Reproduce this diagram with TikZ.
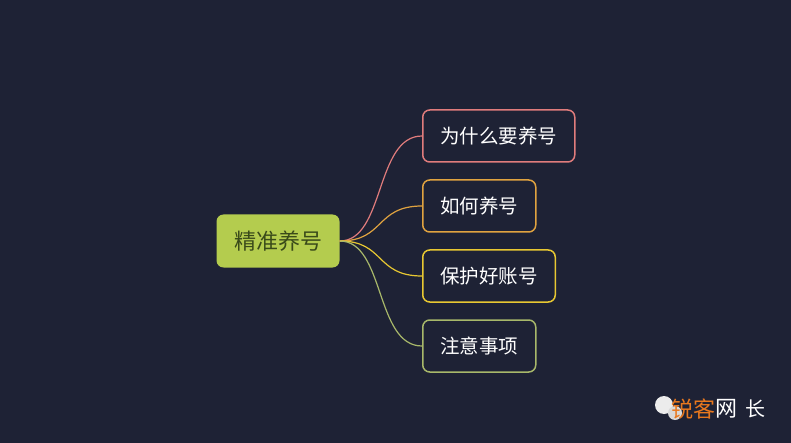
\documentclass[tikz,border=0pt]{standalone}
\usepackage{fontspec}
\setmainfont{Noto Sans CJK SC}
\usepackage{tikz}
\usetikzlibrary{positioning}
\definecolor{bgdark}{HTML}{1E2235}
\definecolor{rootgreen}{HTML}{B4CC4E}
\definecolor{rootink}{HTML}{3A4A1A}
\definecolor{brpink}{HTML}{E07C7C}
\definecolor{brorange}{HTML}{E0A340}
\definecolor{bryellow}{HTML}{E8C832}
\definecolor{brolive}{HTML}{A8B86A}
\definecolor{wmorange}{HTML}{E8781E}
\tikzset{
  mm_root/.style = {rectangle, rounded corners=7pt, fill=rootgreen, text=rootink,
    font=\fontsize{22}{22}\selectfont, minimum width=123pt, minimum height=53pt},
  mm_leaf/.style = {rectangle, rounded corners=7pt, draw=#1, line width=1.5pt,
    fill=bgdark, text=white, font=\fontsize{19.5}{20}\selectfont,
    minimum height=52pt, inner xsep=17.5pt},
  mm_link/.style = {draw=#1, line width=1.2pt}
}
\begin{document}
\begin{tikzpicture}[x=1pt,y=-1pt]
  \fill[bgdark] (0,0) rectangle (791,443);
  \useasboundingbox (0,0) rectangle (791,443);
  % central topic and its branches
  \node [mm_root] (root) at (278,241) {精准养号};
  \node [mm_leaf=brpink, anchor=west] (why) at (422,136) {为什么要养号};
  \node [mm_leaf=brorange, anchor=west] (how) at (422,206) {如何养号};
  \node [mm_leaf=bryellow, anchor=west] (keep) at (422,276) {保护好账号};
  \node [mm_leaf=brolive, anchor=west] (note) at (422,346) {注意事项};
  \foreach \leaf/\col in {why/brpink, how/brorange, keep/bryellow, note/brolive}
    \draw [mm_link=\col] (root.east) .. controls (385,241) and (375,0 |- \leaf.west) .. (\leaf.west);
  % watermark
  \fill [white!85!gray] (664,405) circle (9pt);
  \fill [white!70!gray] (675,413) circle (7pt);
  \node [anchor=west, text=wmorange, font=\fontsize{22}{22}\selectfont, inner sep=0pt] (wm1) at (671,409) {锐客};
  \node [right=0pt of wm1, text=white, font=\fontsize{22}{22}\selectfont, inner sep=0pt] (wm2) {网};
  \node [right=7pt of wm2, text=white, font=\fontsize{20}{20}\selectfont, inner sep=0pt] (wm3) {长};
\end{tikzpicture}
\end{document}
